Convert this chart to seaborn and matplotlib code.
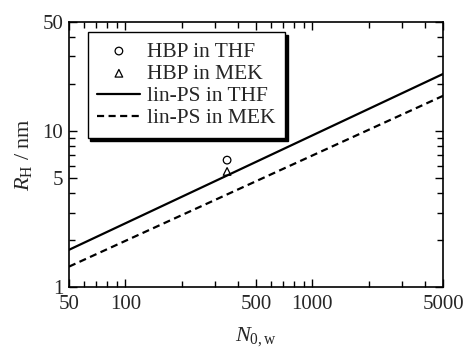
import numpy as np
import pandas as pd
import matplotlib
matplotlib.use("Agg")
import matplotlib.pyplot as plt
import seaborn as sns
from matplotlib.ticker import FixedLocator, NullFormatter

# HBP data points
hbp_n = [350, 350]
hbp_r = [6.5, 5.5]
hbp_labels = ["HBP in THF", "HBP in MEK"]
hbp_markers = ["o", "^"]

# linear PS scaling lines (end points)
lin_n = [50, 5000]
lin_thf = [1.73, 23.2]
lin_mek = [1.35, 16.8]

xticks = [50, 100, 500, 1000, 5000]
yticks = [1, 5, 10, 50]

sns.set_style("ticks")
plt.rcParams['font.family'] = ['Liberation Serif', 'DejaVu Serif']
plt.rcParams['mathtext.fontset'] = 'custom'
plt.rcParams['mathtext.rm'] = 'Liberation Serif'
plt.rcParams['mathtext.it'] = 'Liberation Serif:italic'
plt.rcParams['font.size'] = 15

fig = plt.figure(figsize=(4.66, 3.47), dpi=100)
ax = fig.add_axes([0.148, 0.173, 0.803, 0.764])

df_lin = pd.DataFrame({"N": lin_n * 2,
                       "R": lin_thf + lin_mek,
                       "s": ["lin-PS in THF"] * 2 + ["lin-PS in MEK"] * 2})
sns.lineplot(data=df_lin[df_lin.s == "lin-PS in THF"], x="N", y="R", color="black",
             lw=1.6, ax=ax, label="lin-PS in THF")
sns.lineplot(data=df_lin[df_lin.s == "lin-PS in MEK"], x="N", y="R", color="black",
             lw=1.6, ls=(0, (3.2, 2)), ax=ax, label="lin-PS in MEK")
for n, r, lab, m in zip(hbp_n, hbp_r, hbp_labels, hbp_markers):
    sns.scatterplot(x=[n], y=[r], marker=m, s=30, facecolor="none", edgecolor="black",
                    linewidth=0.9, ax=ax, label=lab)

ax.set_xscale("log")
ax.set_yscale("log")
ax.set_xlim(50, 5000)
ax.set_ylim(1, 50)

ax.xaxis.set_major_locator(FixedLocator(xticks))
ax.set_xticklabels([str(t) for t in xticks])
ax.xaxis.set_minor_locator(FixedLocator([60, 70, 80, 90, 200, 300, 400, 600, 700, 800, 900, 2000, 3000, 4000]))
ax.xaxis.set_minor_formatter(NullFormatter())
ax.yaxis.set_major_locator(FixedLocator(yticks))
ax.set_yticklabels([str(t) for t in yticks])
ax.yaxis.set_minor_locator(FixedLocator([2, 3, 4, 6, 7, 8, 9, 20, 30, 40]))
ax.yaxis.set_minor_formatter(NullFormatter())

ax.tick_params(which="both", direction="in", top=True, right=True, width=1, color="black", labelsize=15)
ax.tick_params(axis="x", pad=6)
ax.tick_params(axis="y", pad=4)
ax.tick_params(which="major", length=6)
ax.tick_params(which="minor", length=4)
for sp in ax.spines.values():
    sp.set_color("black")
    sp.set_linewidth(1.2)

ax.set_xlabel(r"$N_{0,\mathrm{w}}$", fontsize=16, labelpad=8)
ax.set_ylabel(r"$R_\mathrm{H}$ / nm", fontsize=16, labelpad=6)

h, l = ax.get_legend_handles_labels()
order = [2, 3, 0, 1]
leg = ax.legend([h[i] for i in order], [l[i] for i in order], loc="upper left",
                bbox_to_anchor=(0.05, 0.962), fancybox=False, framealpha=1,
                edgecolor="black", shadow={"color": "black", "alpha": 1},
                handlelength=2.0, handletextpad=0.3, labelspacing=0.1,
                borderpad=0.45, borderaxespad=0, fontsize=15.5)
leg.get_frame().set_linewidth(1.0)

fig.savefig("out.png", dpi=100)
